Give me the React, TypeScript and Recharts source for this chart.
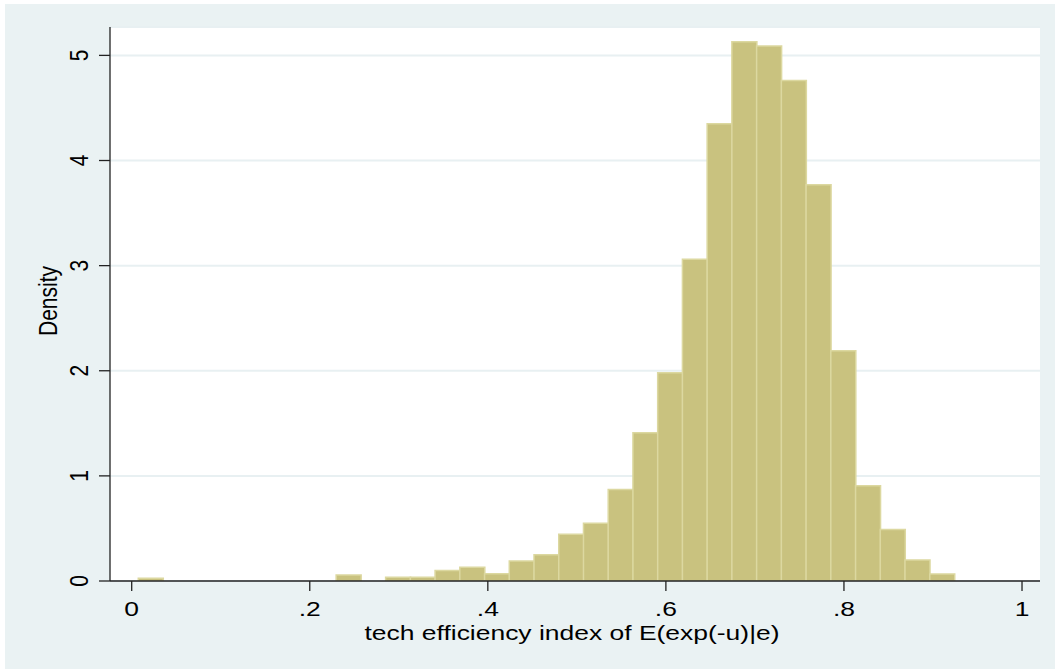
import React from "react";
import { BarChart, Bar, XAxis, YAxis, CartesianGrid } from "recharts";

// Histogram bins (Stata-style): 33 bins starting at binStart, each binWidth wide
const binStart = 0.0074;
const binWidth = 0.02778;
const densities = [
  0.026, 0, 0, 0, 0, 0, 0, 0, 0.057, 0, 0.035, 0.035, 0.1, 0.13, 0.07, 0.19,
  0.25, 0.445, 0.55, 0.87, 1.41, 1.98, 3.06, 4.35, 5.13, 5.09, 4.76, 3.77,
  2.19, 0.905, 0.49, 0.2, 0.067,
];
const xTicks = [0, 0.2, 0.4, 0.6, 0.8, 1];
const xTickLabels = ["0", ".2", ".4", ".6", ".8", "1"];
const yTicks = [0, 1, 2, 3, 4, 5];
const xTitle = "tech efficiency index of E(exp(-u)|e)";
const yTitle = "Density";

const data = densities.map((d, i) => ({
  mid: binStart + (i + 0.5) * binWidth,
  density: d,
}));

const FONT = "'Liberation Sans', Arial, sans-serif";
const FS = 21;
const SX = 1.26;

const XTick = (props: any) => {
  const { x, payload } = props;
  const idx = xTicks.indexOf(payload.value);
  return (
    <text
      transform={`translate(${x}, 616) scale(${SX}, 1)`}
      textAnchor="middle"
      fontFamily={FONT}
      fontSize={FS}
      fill="#000"
    >
      {idx >= 0 ? xTickLabels[idx] : payload.value}
    </text>
  );
};

const YTick = (props: any) => {
  const { y, payload } = props;
  const bx = 88;
  return (
    <text
      transform={`translate(${bx}, ${y}) scale(${SX}, 1) rotate(-90)`}
      textAnchor="middle"
      fontFamily={FONT}
      fontSize={FS}
      fill="#000"
    >
      {payload.value}
    </text>
  );
};

export default function App() {
  return (
    <div
      style={{
        position: "fixed",
        left: 0,
        top: 0,
        width: 1055,
        height: 669,
        background: "#ffffff",
        overflow: "hidden",
      }}
    >
      <div
        style={{
          position: "absolute",
          left: 5,
          top: 4,
          width: 1050,
          height: 665,
          background: "#EAF2F3",
        }}
      />
      <div style={{ position: "absolute", left: 0, top: 0 }}>
        <BarChart
          width={1055}
          height={669}
          data={data}
          margin={{ top: 27, right: 15, left: 50, bottom: 28 }}
          barCategoryGap={0}
          barGap={0}
        >
          <CartesianGrid
            horizontal={true}
            vertical={false}
            fill="#ffffff"
            stroke="#E8F0F2"
            strokeWidth={2}
          />
          <XAxis
            dataKey="mid"
            type="number"
            domain={[-0.02437, 1.0202]}
            ticks={xTicks}
            allowDataOverflow
            height={60}
            tickSize={10}
            tickLine={{ stroke: "#222", strokeWidth: 1.3 }}
            axisLine={{ stroke: "#222", strokeWidth: 1.3 }}
            tick={<XTick />}
            interval={0}
          />
          <YAxis
            type="number"
            domain={[0, 5.27]}
            ticks={yTicks}
            allowDataOverflow
            width={60}
            tickSize={11}
            tickLine={{ stroke: "#222", strokeWidth: 1.3 }}
            axisLine={{ stroke: "#222", strokeWidth: 1.3 }}
            tick={<YTick />}
            interval={0}
          />
          <Bar
            dataKey="density"
            fill="#C9C27F"
            stroke="#DCD8A0"
            strokeWidth={1.5}
            isAnimationActive={false}
          />
          <text
            transform={`translate(572, 640) scale(${SX}, 1)`}
            textAnchor="middle"
            fontFamily={FONT}
            fontSize={FS}
            fill="#000"
          >
            {xTitle}
          </text>
          <text
            transform={`translate(57, 301) scale(${SX}, 1) rotate(-90)`}
            textAnchor="middle"
            fontFamily={FONT}
            fontSize={FS}
            fill="#000"
          >
            {yTitle}
          </text>
        </BarChart>
      </div>
    </div>
  );
}
